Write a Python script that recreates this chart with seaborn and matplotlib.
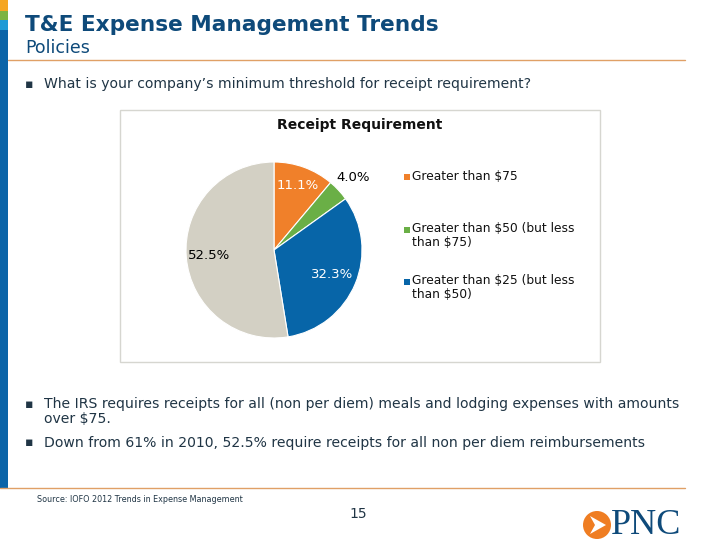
import matplotlib
matplotlib.use("Agg")
import matplotlib.pyplot as plt
import matplotlib.patches as mpatches
import numpy as np
import seaborn as sns

sns.set_theme(style="white")
plt.rcParams['font.family'] = ['DejaVu Sans']

# ---- data ----
categories = ["Greater than $75",
              "Greater than $50 (but less\nthan $75)",
              "Greater than $25 (but less\nthan $50)",
              "All"]
shares = [11.1, 4.0, 32.3, 52.5]
legend_count = 3
colors = ["#F0802A", "#6AAF46", "#0765A8", "#D3D0C4"]
label_colors = ["white", "black", "white", "black"]
label_dist = [0.78, 1.22, 0.72, 0.74]

title = "T&E Expense Management Trends"
subtitle = "Policies"
question = "What is your company\u2019s minimum threshold for receipt requirement?"
bullets = ["The IRS requires receipts for all (non per diem) meals and lodging expenses with amounts\nover $75.",
           "Down from 61% in 2010, 52.5% require receipts for all non per diem reimbursements"]
source = "Source: IOFO 2012 Trends in Expense Management"
page = "15"

W, H = 720, 540
fig = plt.figure(figsize=(7.2, 5.4), dpi=100)
fig.patch.set_facecolor("white")

def fx(x): return x / W
def fy(y): return 1 - y / H

# background layer (slide decoration)
bg = fig.add_axes([0, 0, 1, 1], zorder=-5)
bg.set_xlim(0, W); bg.set_ylim(H, 0); bg.axis("off")
bg.add_patch(mpatches.Rectangle((0, 0), 8, 11, color="#F5A623", lw=0))
bg.add_patch(mpatches.Rectangle((0, 11), 8, 9, color="#7CB342", lw=0))
bg.add_patch(mpatches.Rectangle((0, 20), 8, 10, color="#1E9AD6", lw=0))
bg.add_patch(mpatches.Rectangle((0, 30), 8, 458, color="#0B64A8", lw=0))
bg.plot([8, 685], [59.5, 59.5], color="#E0A066", lw=1)
bg.plot([0, 685], [488, 488], color="#E0A066", lw=1)
bg.add_patch(mpatches.Rectangle((120, 110), 480, 252, fill=False, ec="#D6D6D0", lw=1))
bg.add_patch(mpatches.Circle((597, 525), 14, color="#EF7D22", lw=0))
bg.add_patch(mpatches.Polygon([[590, 516], [606, 525], [590, 534], [595, 525]],
                              closed=True, color="white", lw=0))

text_col = "#203545"
fig.text(fx(25), fy(25), title, fontsize=15.6, fontweight="bold", color="#0E4A7A", va="center")
fig.text(fx(25), fy(48), subtitle, fontsize=12.5, color="#0E4A7A", va="center")
fig.text(fx(25), fy(84), "\u25aa", fontsize=9, color=text_col, va="center")
fig.text(fx(44), fy(84), question, fontsize=10.05, color=text_col, va="center")
fig.text(fx(25), fy(404), "\u25aa", fontsize=9, color=text_col, va="center")
fig.text(fx(44), fy(397), bullets[0], fontsize=10.1, color=text_col, va="top", linespacing=1.05)
fig.text(fx(25), fy(443), "\u25aa", fontsize=9, color=text_col, va="center")
fig.text(fx(44), fy(443), bullets[1], fontsize=10.1, color=text_col, va="center")
fig.text(fx(37), fy(499), source, fontsize=5.75, color=text_col, va="center")
fig.text(fx(358), fy(514), page, fontsize=10, color=text_col, va="center", ha="center")
fig.text(fx(611), fy(525), "PNC", fontsize=26, color="#0E4A7A", va="center", ha="left",
         family="Liberation Serif")

# chart title
fig.text(fx(360), fy(125), "Receipt Requirement", fontsize=10, fontweight="bold",
         color="#111111", va="center", ha="center")

# pie
cx, cy, r = 274, 250, 88
total = sum(shares)
ax = fig.add_axes([fx(cx - r), fy(cy + r), 2 * r / W, 2 * r / H])
wedges, texts, autotexts = ax.pie(shares, colors=colors, startangle=90, counterclock=False,
                                  autopct=lambda p: f"{p * total / 100:.1f}%", pctdistance=0.75,
                                  wedgeprops=dict(edgecolor="white", linewidth=0.8),
                                  textprops=dict(fontsize=9.5))
for w, t, d, c in zip(wedges, autotexts, label_dist, label_colors):
    ang = np.deg2rad((w.theta1 + w.theta2) / 2)
    t.set_position((d * np.cos(ang), d * np.sin(ang)))
    t.set_color(c)
ax.set_xlim(-1, 1); ax.set_ylim(-1, 1)

# legend (entries top-aligned at even spacing, as in the original)
leg_tops = [169.5, 222, 274.5]
for w, lab, top in zip(wedges[:legend_count], categories[:legend_count], leg_tops):
    bg.add_patch(mpatches.Rectangle((404, top + 4.5), 6, 6, color=w.get_facecolor(), lw=0))
    fig.text(fx(412), fy(top), lab, fontsize=8.8, color="#111111", va="top", ha="left",
             linespacing=1.1)

fig.savefig("out.png", dpi=100, facecolor="white")
